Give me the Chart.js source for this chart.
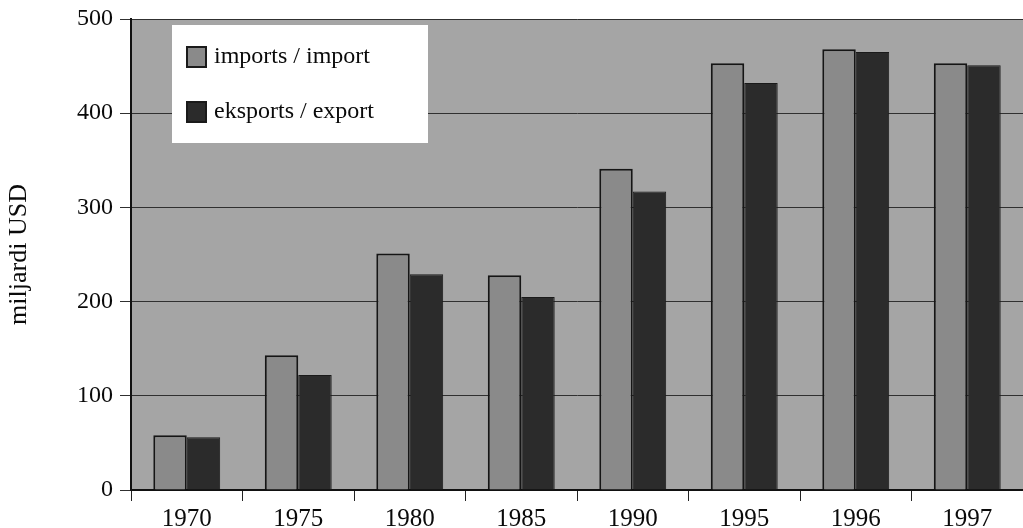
<!DOCTYPE html>
<html>
<head>
<meta charset="utf-8">
<script src="https://cdn.jsdelivr.net/npm/chart.js@4"></script>
<style>
  html, body { margin: 0; padding: 0; background: #ffffff; overflow: hidden; }
  #wrap { width: 1023px; height: 528px; }
</style>
</head>
<body>
<div id="wrap"><canvas id="trade-chart" width="1023" height="528"></canvas></div>
<script>
const years = ["1970", "1975", "1980", "1985", "1990", "1995", "1996", "1997"];
const importValues = [58, 143, 251, 228, 341, 453, 468, 453];
const exportValues = [56, 122, 229, 205, 317, 432, 465, 451];
const seriesLabels = ["imports / import", "eksports / export"];
const yTicks = [0, 100, 200, 300, 400, 500];

const serif = "'Liberation Serif', 'Times New Roman', serif";

// gray plot background
const plotBackground = {
  id: "plotBackground",
  beforeDraw(chart) {
    const { ctx, chartArea: a } = chart;
    ctx.save();
    ctx.fillStyle = "#a5a5a5";
    ctx.fillRect(a.left, a.top, a.right - a.left, a.bottom - a.top);
    ctx.restore();
  }
};

// white legend box inside the plot
const boxLegend = {
  id: "boxLegend",
  afterDraw(chart) {
    const { ctx } = chart;
    ctx.save();
    ctx.fillStyle = "#ffffff";
    ctx.fillRect(172, 25, 256, 118);
    chart.data.datasets.forEach((ds, i) => {
      const y = 57 + i * 55;
      ctx.fillStyle = ds.backgroundColor;
      ctx.fillRect(186, y - 11, 21, 22);
      ctx.lineWidth = 2;
      ctx.strokeStyle = "#1a1a1a";
      ctx.strokeRect(187, y - 10, 19, 20);
      ctx.fillStyle = "#0a0a0a";
      ctx.font = "24px " + serif;
      ctx.textBaseline = "middle";
      ctx.textAlign = "left";
      ctx.fillText(ds.label, 214, y);
    });
    ctx.restore();
  }
};

new Chart(document.getElementById("trade-chart"), {
  type: "bar",
  data: {
    labels: years,
    datasets: [
      {
        label: seriesLabels[0],
        data: importValues,
        backgroundColor: "#8a8a8a",
        borderColor: "#151515",
        borderWidth: 2,
        categoryPercentage: 0.6,
        barPercentage: 1.0
      },
      {
        label: seriesLabels[1],
        data: exportValues,
        backgroundColor: "#2b2b2b",
        borderColor: "#1a1a1a",
        borderWidth: 1,
        categoryPercentage: 0.6,
        barPercentage: 1.0
      }
    ]
  },
  options: {
    responsive: false,
    animation: false,
    layout: { padding: { top: 18, right: 0, left: 0, bottom: 0 } },
    plugins: {
      legend: { display: false },
      tooltip: { enabled: false }
    },
    scales: {
      x: {
        offset: true,
        afterFit(scale) { scale.height = 38; },
        grid: {
          offset: true,
          drawOnChartArea: false,
          tickLength: 11,
          color: "#222222",
          lineWidth: 1
        },
        border: { color: "#111111", width: 2 },
        ticks: {
          color: "#0a0a0a",
          padding: 3,
          maxRotation: 0,
          font: { family: serif, size: 25 }
        }
      },
      y: {
        min: 0,
        max: 500,
        afterFit(scale) { scale.width = 131; },
        afterBuildTicks(scale) { scale.ticks = yTicks.map(v => ({ value: v })); },
        grid: {
          color: "#303030",
          lineWidth: 1,
          tickLength: 11
        },
        border: { color: "#111111", width: 2 },
        ticks: {
          color: "#0a0a0a",
          padding: 7,
          font: { family: serif, size: 24, lineHeight: 1 }
        },
        title: {
          display: true,
          text: "miljardi USD",
          color: "#0a0a0a",
          padding: { top: 4, bottom: 0 },
          font: { family: serif, size: 26 }
        }
      }
    }
  },
  plugins: [plotBackground, boxLegend]
});
</script>
</body>
</html>
